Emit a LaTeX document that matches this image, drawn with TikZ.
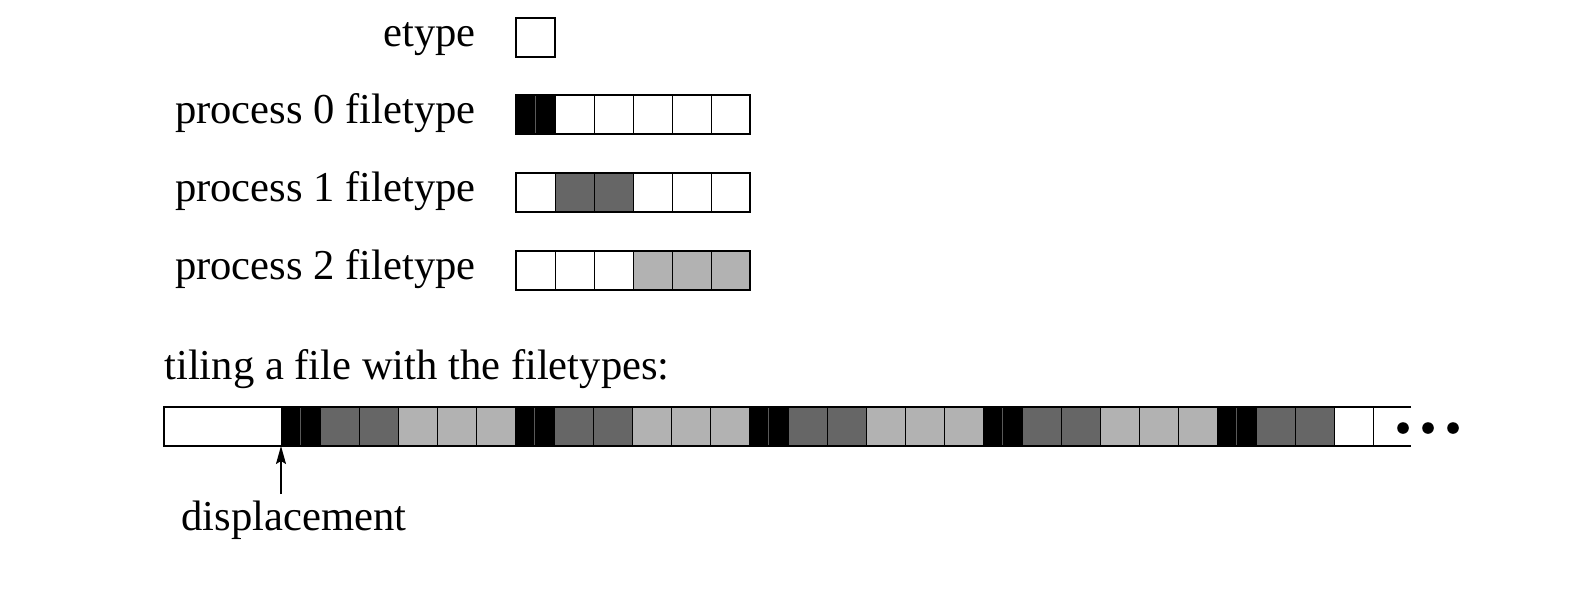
\documentclass[tikz,border=0pt]{standalone}
\usepackage{fontspec}
\setmainfont{Liberation Serif}
\usetikzlibrary{positioning,arrows.meta}
\definecolor{procone}{gray}{0.4}
\definecolor{proctwo}{gray}{0.7}

\begin{document}
\begin{tikzpicture}[x=0.5pt,y=-0.5pt,node distance=0pt,
                    font=\fontsize{21.3}{25}\selectfont,
    cell/.style={draw,line width=0.5pt,minimum size=19.5pt,inner sep=0pt,outer sep=0pt},
    pzero/.style={cell,fill=black,path picture={
        \draw[gray!70!black,line width=0.4pt] (path picture bounding box.north)
                                           -- (path picture bounding box.south);}},
    pone/.style={cell,fill=procone},
    ptwo/.style={cell,fill=proctwo},
    hole/.style={cell,fill=white},
    lbl/.style={anchor=base east,inner sep=0pt},
    frame/.style={draw,line width=1pt}]

  \useasboundingbox (0,0) rectangle (1570,596);

  % legend
  \node[cell,frame] (et)  at (535.5,37.5) {};
  \node[lbl]        (etl) at (476,46)     {etype};

  \foreach \s [count=\i] in {pzero,hole,hole,hole,hole,hole}
    \node[\s] (a\i) at ({496.5+39*\i},114.5) {};
  \foreach \s [count=\i] in {hole,pone,pone,hole,hole,hole}
    \node[\s] (b\i) at ({496.5+39*\i},192.5) {};
  \foreach \s [count=\i] in {hole,hole,hole,ptwo,ptwo,ptwo}
    \node[\s] (c\i) at ({496.5+39*\i},270.5) {};
  \draw[frame] (a1.north west) rectangle (a6.south east);
  \draw[frame] (b1.north west) rectangle (b6.south east);
  \draw[frame] (c1.north west) rectangle (c6.south east);

  \node[lbl] (al) at (476,123) {process 0 filetype};
  \node[lbl] (bl) at (476,201) {process 1 filetype};
  \node[lbl] (cl) at (476,279) {process 2 filetype};

  % the tiled file
  \node[anchor=base west,inner sep=0pt] (tl) at (164,379) {tiling a file with the filetypes:};
  \node[hole,minimum width=58.5pt] (disp) at (222.5,426.5) {};
  \foreach \s [count=\i] in {pzero,pone,pone,ptwo,ptwo,ptwo,
                            pzero,pone,pone,ptwo,ptwo,ptwo,
                            pzero,pone,pone,ptwo,ptwo,ptwo,
                            pzero,pone,pone,ptwo,ptwo,ptwo,
                            pzero,pone,pone,hole}
    \node[\s] (f\i) at ({261.5+39*\i},426.5) {};
  \coordinate (tend) at (1411,407);
  \coordinate (bend) at (1411,446);
  \draw[frame] (tend) -- (disp.north west) -- (disp.south west) -- (bend);
  \foreach \x in {1403,1428,1453}
    \fill (\x,428) circle (2.9pt);

  \node[anchor=base,inner sep=0pt] (dl) at (294,530) {displacement};
  \coordinate (tail) at (281,494);
  \draw[-{Stealth[length=9pt,width=5pt,inset=1.5pt]},line width=0.6pt] (tail) -- (disp.south east);
\end{tikzpicture}
\end{document}
